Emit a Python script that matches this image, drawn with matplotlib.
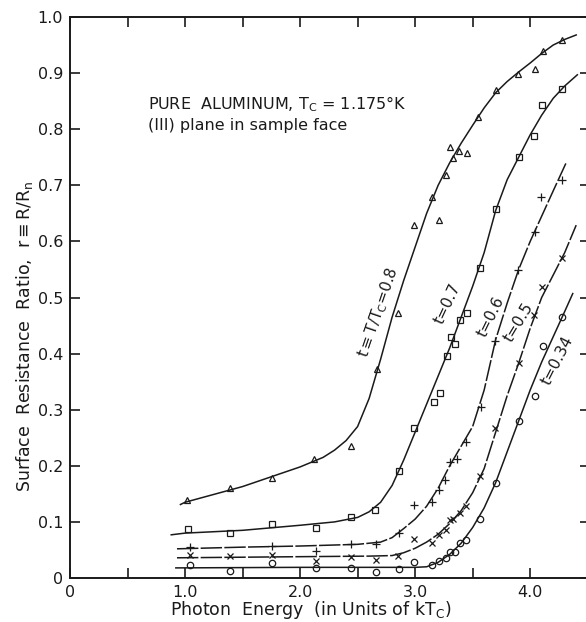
import numpy as np
import matplotlib
matplotlib.use("Agg")
import matplotlib.pyplot as plt

# measured points (photon energy in kTc, surface resistance ratio r)
t08_E = [1.02, 1.39, 1.76, 2.12, 2.44, 2.67, 2.85, 2.99, 3.15, 3.21, 3.27, 3.30, 3.33, 3.38,
         3.45, 3.55, 3.70, 3.89, 4.04, 4.11, 4.28]
t08_r = [0.139, 0.161, 0.179, 0.212, 0.236, 0.373, 0.473, 0.630, 0.679, 0.638, 0.718, 0.768,
         0.748, 0.762, 0.757, 0.822, 0.870, 0.898, 0.908, 0.939, 0.959]

t07_E = [1.03, 1.39, 1.76, 2.14, 2.44, 2.65, 2.86, 2.99, 3.16, 3.22, 3.28, 3.31, 3.35, 3.39,
         3.45, 3.56, 3.70, 3.90, 4.03, 4.10, 4.28]
t07_r = [0.088, 0.081, 0.096, 0.090, 0.109, 0.122, 0.191, 0.268, 0.313, 0.329, 0.396, 0.430,
         0.418, 0.460, 0.473, 0.552, 0.658, 0.751, 0.787, 0.844, 0.872]

t06_E = [1.04, 1.76, 2.14, 2.44, 2.66, 2.86, 2.99, 3.15, 3.21, 3.26, 3.30, 3.36, 3.44, 3.57,
         3.69, 3.89, 4.04, 4.09, 4.28]
t06_r = [0.056, 0.057, 0.049, 0.060, 0.060, 0.080, 0.131, 0.135, 0.156, 0.175, 0.206, 0.212,
         0.243, 0.305, 0.423, 0.549, 0.616, 0.679, 0.709]

t05_E = [1.04, 1.39, 1.76, 2.14, 2.44, 2.66, 2.85, 2.99, 3.15, 3.21, 3.27, 3.30, 3.33, 3.39,
         3.44, 3.56, 3.69, 3.90, 4.03, 4.10, 4.28]
t05_r = [0.041, 0.039, 0.041, 0.031, 0.037, 0.032, 0.039, 0.069, 0.063, 0.077, 0.086, 0.103,
         0.106, 0.115, 0.129, 0.181, 0.267, 0.383, 0.469, 0.519, 0.571]

t034_E = [1.04, 1.39, 1.76, 2.14, 2.44, 2.66, 2.86, 2.99, 3.15, 3.21, 3.27, 3.30, 3.35, 3.39,
          3.44, 3.56, 3.70, 3.90, 4.04, 4.11, 4.28]
t034_r = [0.024, 0.013, 0.026, 0.017, 0.017, 0.010, 0.016, 0.029, 0.024, 0.030, 0.035, 0.047,
          0.047, 0.062, 0.068, 0.106, 0.169, 0.280, 0.325, 0.414, 0.466]

# hand-drawn fit curves
c08_E = [0.96, 1.0, 1.5, 2.0, 2.2, 2.3, 2.4, 2.5, 2.6, 2.7, 2.8, 2.9, 3.0, 3.1, 3.2, 3.3,
         3.4, 3.5, 3.6, 3.7, 3.8, 3.9, 4.0, 4.1, 4.2, 4.3, 4.4]
c08_r = [0.131, 0.135, 0.163, 0.198, 0.215, 0.228, 0.245, 0.270, 0.320, 0.390, 0.465, 0.530,
         0.590, 0.650, 0.700, 0.740, 0.775, 0.807, 0.838, 0.865, 0.885, 0.902, 0.918, 0.935,
         0.950, 0.960, 0.968]

c07_E = [0.88, 1.0, 1.5, 2.0, 2.3, 2.5, 2.6, 2.7, 2.8, 2.9, 3.0, 3.1, 3.2, 3.3, 3.4, 3.5,
         3.6, 3.7, 3.8, 3.9, 4.0, 4.1, 4.2, 4.3, 4.41]
c07_r = [0.077, 0.080, 0.085, 0.094, 0.100, 0.108, 0.118, 0.135, 0.165, 0.210, 0.260, 0.310,
         0.360, 0.410, 0.465, 0.520, 0.580, 0.655, 0.710, 0.750, 0.790, 0.825, 0.855, 0.877,
         0.897]

c06_E = [0.93, 1.5, 2.0, 2.5, 2.7, 2.8, 2.9, 3.0, 3.1, 3.2, 3.3, 3.4, 3.5, 3.6, 3.7, 3.8,
         3.9, 4.0, 4.1, 4.2, 4.31]
c06_r = [0.052, 0.055, 0.057, 0.060, 0.064, 0.072, 0.088, 0.105, 0.128, 0.160, 0.200, 0.235,
         0.270, 0.335, 0.425, 0.490, 0.550, 0.600, 0.645, 0.690, 0.739]

c05_E = [0.93, 2.0, 2.6, 2.8, 2.9, 3.0, 3.1, 3.2, 3.3, 3.4, 3.5, 3.6, 3.7, 3.8, 3.9, 4.0,
         4.1, 4.2, 4.3, 4.4]
c05_r = [0.036, 0.038, 0.039, 0.040, 0.045, 0.053, 0.064, 0.078, 0.097, 0.120, 0.152, 0.195,
         0.260, 0.325, 0.383, 0.445, 0.500, 0.540, 0.580, 0.629]

c034_E = [0.92, 2.0, 3.0, 3.1, 3.2, 3.3, 3.4, 3.5, 3.6, 3.7, 3.8, 3.9, 4.0, 4.1, 4.2, 4.3, 4.37]
c034_r = [0.018, 0.019, 0.019, 0.020, 0.028, 0.042, 0.062, 0.090, 0.125, 0.170, 0.225, 0.280,
          0.335, 0.385, 0.430, 0.475, 0.507]

ink = '#1a1a1a'
fig = plt.figure(figsize=(5.86, 6.22), dpi=100)
W, H = 586, 622
ax = fig.add_axes([70 / W, 1 - 578 / H, 520 / W, 561 / H])

lw = 1.1
ax.plot(c08_E, c08_r, '-', color=ink, lw=lw)
ax.plot(c07_E, c07_r, '-', color=ink, lw=lw)
ax.plot(c06_E, c06_r, '-', color=ink, lw=lw, dashes=(14, 1.5))
ax.plot(c05_E, c05_r, '-', color=ink, lw=lw, dashes=(14, 1.5))
ax.plot(c034_E, c034_r, '-', color=ink, lw=lw)

mk = dict(ls='none', color=ink, mfc='none', mec=ink, mew=0.9)
ax.plot(t08_E, t08_r, marker='^', ms=4.6, **mk)
ax.plot(t07_E, t07_r, marker='s', ms=4.6, **mk)
ax.plot(t06_E, t06_r, marker='+', ms=6, **mk)
ax.plot(t05_E, t05_r, marker='x', ms=4.6, **mk)
ax.plot(t034_E, t034_r, marker='o', ms=4.6, **mk)

ax.set_xlim(0, 4.52)
ax.set_ylim(0, 1.0)
ax.set_xticks([0, 1, 2, 3, 4])
ax.set_xticklabels(['0', '1.0', '2.0', '3.0', '4.0'])
ax.set_xticks(np.arange(0.5, 4.6, 1.0), minor=True)
ax.set_yticks(np.arange(0, 1.01, 0.1))
ax.set_yticklabels(['0'] + ['%.1f' % v for v in np.arange(0.1, 1.01, 0.1)])
for s in ax.spines.values():
    s.set_linewidth(1.4)
    s.set_color(ink)
ax.tick_params(which='both', direction='in', length=7, width=1.2, color=ink,
               top=True, right=True, labelsize=11.5, labelcolor=ink, pad=5)

ax.set_ylabel(r'Surface  Resistance  Ratio,  r$\equiv$R/R$_\mathregular{n}$', fontsize=12.5,
              color=ink)
ax.yaxis.set_label_coords(-0.067, 0.431)
fig.text(311 / W, 1 - 610 / H, r'Photon  Energy  (in Units of kT$_\mathregular{C}$)',
         fontsize=12.5, color=ink, ha='center', va='center')

ax.text(0.68, 0.845, r'PURE  ALUMINUM, T$_\mathregular{C}$ = 1.175°K',
        fontsize=11.5, color=ink, va='center')
ax.text(0.68, 0.806, '(III) plane in sample face', fontsize=11.5, color=ink, va='center')

lab = dict(fontsize=11, color=ink, ha='center', va='center', rotation_mode='anchor')
ax.text(2.68, 0.474, r't$\equiv$T/T$_\mathregular{C}$=0.8', rotation=71, **lab)
ax.text(3.28, 0.489, 't=0.7', rotation=65, **lab)
ax.text(3.66, 0.466, 't=0.6', rotation=64, **lab)
ax.text(3.90, 0.456, 't=0.5', rotation=59, **lab)
ax.text(4.24, 0.387, 't=0.34', rotation=63, **lab)

fig.savefig('out.png', dpi=100)
